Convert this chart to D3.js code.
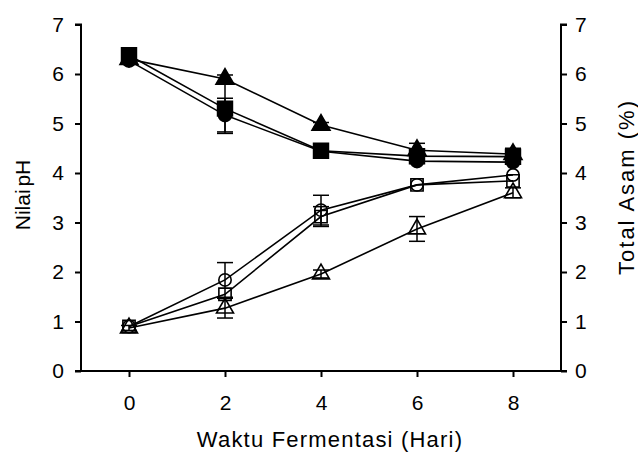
<!DOCTYPE html>
<html>
<head>
<meta charset="utf-8">
<script src="https://cdn.jsdelivr.net/npm/d3@7"></script>
<style>
	body { margin: 0; background: #fff; }
	text { font-family: "Liberation Sans", Arial, sans-serif; fill: #000; }
</style>
</head>
<body>
<svg id="chart" width="638" height="452"></svg>
<script>
// hari fermentasi
var days = [0, 2, 4, 6, 8];
var yTicks = [0, 1, 2, 3, 4, 5, 6, 7];

// nilai pH (simbol penuh)
var phTriangle = [6.3, 5.9, 4.97, 4.46, 4.38];
var phTriangleErr = [0, 0.08, 0.05, 0.14, 0.12];
var phSquare = [6.38, 5.3, 4.45, 4.34, 4.33];
var phSquareErr = [0, 0.5, 0, 0, 0];
var phCircle = [6.27, 5.17, 4.44, 4.24, 4.22];
var phCircleErr = [0.05, 0.34, 0, 0, 0];

// total asam (simbol kosong)
var acCircle = [0.9, 1.84, 3.25, 3.76, 3.96];
var acCircleErr = [0, 0.35, 0.3, 0, 0];
var acSquare = [0.9, 1.55, 3.12, 3.76, 3.84];
var acSquareErr = [0, 0, 0.2, 0, 0];
var acTriangle = [0.87, 1.27, 1.96, 2.87, 3.6];
var acTriangleErr = [0.05, 0.2, 0.08, 0.25, 0.1];

(function() {
	'use strict';

	var svg = d3.select("#chart"),
		left = 81, right = 561, top = 24.5, bottom = 371;

	var x = d3.scaleLinear().domain([-1, 9]).range([left, right]);
	var y = d3.scaleLinear().domain([0, 7]).range([bottom, top]);

	var series = [
		{ v: acTriangle, e: acTriangleErr, shape: d3.symbolTriangle, size: 125, fill: "none" },
		{ v: acCircle, e: acCircleErr, shape: d3.symbolCircle, size: 120, fill: "none" },
		{ v: acSquare, e: acSquareErr, shape: d3.symbolSquare, size: 150, fill: "none" },
		{ v: phTriangle, e: phTriangleErr, shape: d3.symbolTriangle, size: 140, fill: "#000" },
		{ v: phCircle, e: phCircleErr, shape: d3.symbolCircle, size: 135, fill: "#000" },
		{ v: phSquare, e: phSquareErr, shape: d3.symbolSquare, size: 220, fill: "#000" }
	];

	var line = d3.line()
		.x(function(d, i) { return x(days[i]); })
		.y(function(d) { return y(d); });

	series.forEach(function(s) {
		var g = svg.append("g");
		// error bars
		var eb = g.selectAll("g.err")
			.data(s.v.map(function(d, i) { return { v: d, e: s.e[i], day: days[i] }; })
				.filter(function(d) { return d.e > 0; }))
			.join("g")
			.attr("stroke", "#000")
			.attr("stroke-width", 1.5);
		eb.append("line")
			.attr("x1", function(d) { return x(d.day); })
			.attr("x2", function(d) { return x(d.day); })
			.attr("y1", function(d) { return y(d.v - d.e); })
			.attr("y2", function(d) { return y(d.v + d.e); });
		[-1, 1].forEach(function(sg) {
			eb.append("line")
				.attr("x1", function(d) { return x(d.day) - 8; })
				.attr("x2", function(d) { return x(d.day) + 8; })
				.attr("y1", function(d) { return y(d.v + sg * d.e); })
				.attr("y2", function(d) { return y(d.v + sg * d.e); });
		});

		g.append("path")
			.datum(s.v)
			.attr("fill", "none")
			.attr("stroke", "#000")
			.attr("stroke-width", 1.6)
			.attr("d", line);

		g.selectAll("path.mk")
			.data(s.v)
			.join("path")
			.attr("class", "mk")
			.attr("transform", function(d, i) { return "translate(" + x(days[i]) + "," + y(d) + ")"; })
			.attr("d", d3.symbol().type(s.shape).size(s.size))
			.attr("fill", s.fill)
			.attr("stroke", "#000")
			.attr("stroke-width", 1.6);
	});

	// sumbu
	var axL = svg.append("g")
		.attr("transform", "translate(" + left + ",0)")
		.call(d3.axisLeft(y).tickValues(yTicks).tickSize(6).tickPadding(11).tickFormat(d3.format("d")));
	var axR = svg.append("g")
		.attr("transform", "translate(" + right + ",0)")
		.call(d3.axisRight(y).tickValues(yTicks).tickSize(6).tickPadding(8).tickFormat(d3.format("d")));
	var axB = svg.append("g")
		.attr("transform", "translate(0," + bottom + ")")
		.call(d3.axisBottom(x).tickValues(days).tickSize(6).tickPadding(18).tickFormat(d3.format("d")));

	[axL, axR, axB].forEach(function(a) {
		a.select(".domain").attr("stroke-width", 2);
		a.selectAll(".tick line").attr("stroke-width", 2);
		a.selectAll("text").style("font-size", "21px");
	});
	axL.select(".domain").attr("d", "M-6," + top + "H0V" + bottom + "H-6");
	axR.select(".domain").attr("d", "M6," + top + "H0V" + bottom + "H6");
	axB.select(".domain").attr("d", "M" + left + ",0H" + right);

	svg.append("text")
		.attr("transform", "translate(30,195)rotate(-90)")
		.attr("text-anchor", "middle")
		.style("font-size", "21px")
		.style("word-spacing", "-3px")
		.text("Nilai pH");
	svg.append("text")
		.attr("transform", "translate(634,187)rotate(-90)")
		.attr("text-anchor", "middle")
		.style("font-size", "22px")
		.style("letter-spacing", "2px")
		.text("Total Asam (%)");
	svg.append("text")
		.attr("x", 330)
		.attr("y", 447)
		.attr("text-anchor", "middle")
		.style("font-size", "22px")
		.style("letter-spacing", "1.2px")
		.text("Waktu Fermentasi (Hari)");
})();
</script>
</body>
</html>
